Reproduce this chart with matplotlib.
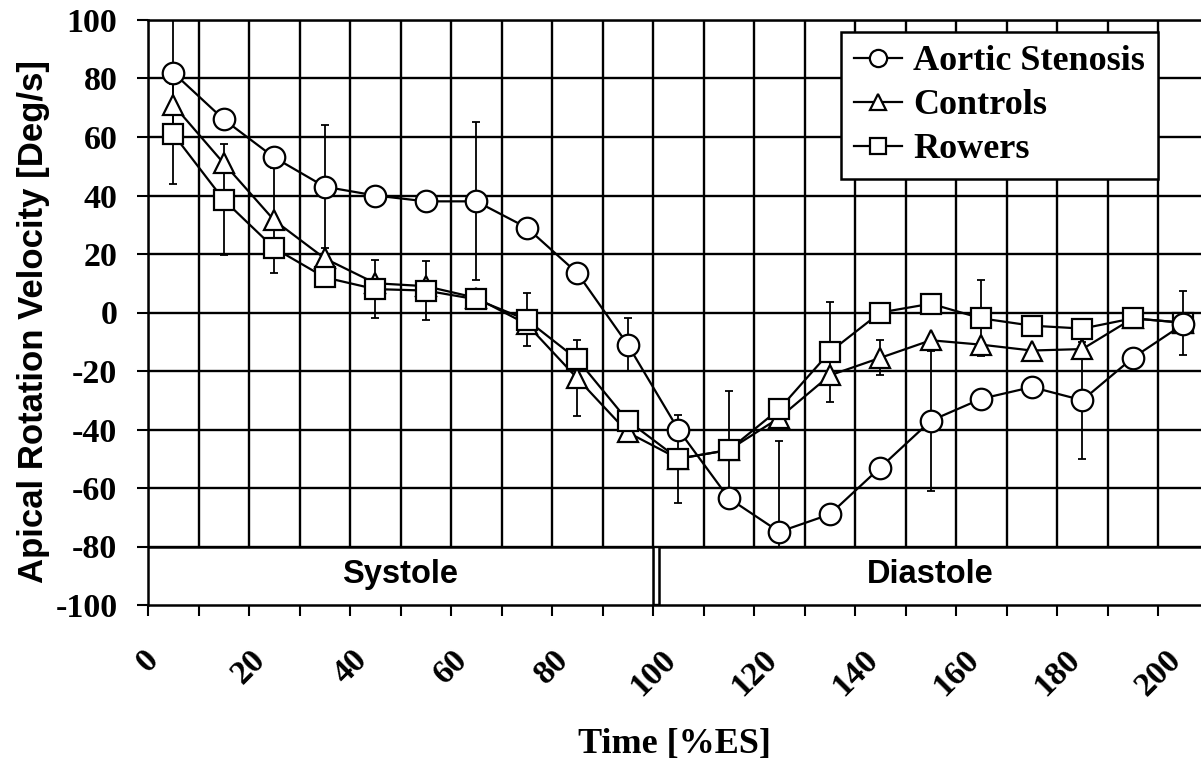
import numpy as np
import matplotlib
matplotlib.use("Agg")
import matplotlib.pyplot as plt
from matplotlib.patches import Rectangle
from matplotlib.ticker import MultipleLocator

plt.rcParams["axes.unicode_minus"] = False

# --- data -----------------------------------------------------------------
time_pct = [5, 15, 25, 35, 45, 55, 65, 75, 85, 95, 105,
            115, 125, 135, 145, 155, 165, 175, 185, 195, 205]

aortic = [82, 66, 53, 43, 40, 38, 38, 29, 13.5, -11, -40,
          -63.5, -75, -69, -53, -37, -29.5, -25.5, -30, -15.5, -4]
controls = [71, 51, 31.5, 18.5, 10, 9, 5, -4, -22.5, -41, -50,
            -47, -36, -21.5, -15.5, -9.5, -11, -13, -12.5, -2, -3.5]
rowers = [61, 38.5, 22, 12, 8, 7.5, 4.5, -2.5, -16, -37, -50,
          -47, -33, -13.5, 0, 3, -2, -4.5, -5.5, -2, -3.5]

# error bar half-widths (0 = no bar drawn)
aortic_err = [19, 0, 0, 21, 0, 0, 27, 0, 0, 9, 0,
              0, 31, 0, 0, 24, 0, 0, 20, 0, 0]
controls_err = [0, 0, 18, 0, 0, 0, 0, 0, 13, 0, 0,
                0, 0, 0, 6, 0, 0, 0, 0, 0, 11]
rowers_err = [17, 19, 0, 0, 10, 10, 0, 9, 0, 0, 15,
              20, 0, 17, 0, 0, 13, 0, 0, 0, 0]

phase_labels = ["Systole", "Diastole"]
phase_start = [0, 101.2]
phase_end = [100, 215]

SERIF = ["Liberation Serif", "DejaVu Serif"]
SANS = ["Liberation Sans", "DejaVu Sans"]
XMAX = 208.5

fig = plt.figure(figsize=(12.01, 7.6), dpi=100)
ax = fig.add_axes([148 / 1201, 1 - 605 / 760, 1053 / 1201, 585 / 760])

ax.set_xlim(0, XMAX)
ax.set_ylim(-100, 100)

# grid every 10 on x, every 20 on y
ax.xaxis.set_major_locator(MultipleLocator(20))
ax.xaxis.set_minor_locator(MultipleLocator(10))
ax.yaxis.set_major_locator(MultipleLocator(20))
ax.set_axisbelow(True)
ax.grid(which="both", axis="x", color="black", linewidth=1.7)
ax.grid(which="major", axis="y", color="black", linewidth=1.7)

ax.spines["right"].set_visible(False)
for side in ["left", "top", "bottom"]:
    ax.spines[side].set_linewidth(1.8)

ax.tick_params(axis="both", which="both", direction="out", length=8,
               width=1.5, color="black")
ax.tick_params(axis="x", which="major", pad=20)
ax.tick_params(axis="y", pad=14)

for lab in ax.get_xticklabels():
    lab.set_rotation(45)
    lab.set_ha("center")
for lab in ax.get_xticklabels() + ax.get_yticklabels():
    lab.set_family(SERIF)
    lab.set_fontweight("bold")
    lab.set_fontsize(24.5)

# phase band along the bottom
for name, x0, x1 in zip(phase_labels, phase_start, phase_end):
    ax.add_patch(Rectangle((x0, -100), x1 - x0, 20, facecolor="white",
                           edgecolor="black", linewidth=1.8, zorder=3))
    ax.text((x0 + min(x1, XMAX)) / 2, -89.5, name, ha="center", va="center",
            family=SANS, fontweight="bold", fontsize=23.5, zorder=4)

series = [
    (controls, controls_err, "^", "Controls", 14),
    (rowers, rowers_err, "s", "Rowers", 14),
    (aortic, aortic_err, "o", "Aortic Stenosis", 15.5),
]

# error bars
x = np.array(time_pct)
for vals, err, mk, lbl, ms in series:
    err = np.array(err, dtype=float)
    m = err > 0
    ax.errorbar(x[m], np.array(vals)[m], yerr=err[m], fmt="none",
                ecolor="black", elinewidth=1.3, capsize=3, capthick=1.3,
                zorder=2.5)

handles = {}
for i, (vals, err, mk, lbl, ms) in enumerate(series):
    ln, = ax.plot(time_pct, vals, color="black", linewidth=1.6, marker=mk,
                  markersize=ms, markerfacecolor="white",
                  markeredgecolor="black", markeredgewidth=1.6,
                  label=lbl, zorder=5 + i)
    handles[lbl] = ln

leg_order = ["Aortic Stenosis", "Controls", "Rowers"]
leg = ax.legend([handles[k] for k in leg_order], leg_order,
                loc="upper right", bbox_to_anchor=(0.959, 0.979),
                prop={"family": SERIF, "weight": "bold", "size": 26},
                frameon=True, fancybox=False, shadow=False, framealpha=1,
                edgecolor="black", markerscale=0.8, handlelength=1.35,
                handletextpad=0.3, labelspacing=0.3, borderpad=0.35,
                borderaxespad=0)
leg.get_frame().set_linewidth(1.8)
leg.set_zorder(10)

ax.set_xlabel("Time [%ES]", family=SERIF, fontweight="bold", fontsize=26)
ax.xaxis.set_label_coords(0.5, -0.21)
ax.set_ylabel("Apical Rotation Velocity [Deg/s]", family=SANS,
              fontweight="bold", fontsize=25)
ax.yaxis.set_label_coords(-0.093, 0.484)

fig.savefig("out.png", dpi=100, facecolor="white")
